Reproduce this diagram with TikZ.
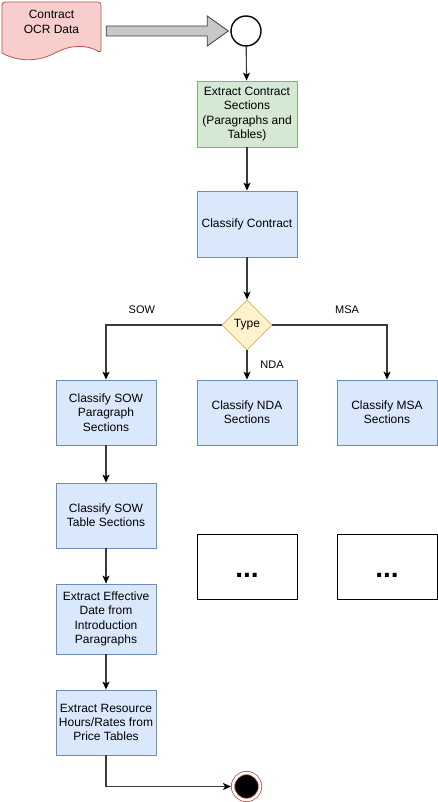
\documentclass[tikz,border=0pt]{standalone}
\usepackage{fontspec}
\setmainfont{Liberation Sans}
\usepackage{tikz}
\usetikzlibrary{shapes,arrows.meta}
\usetikzlibrary{calc}
\usetikzlibrary{positioning}

\definecolor{blue_fill}{HTML}{DAE8FC}
\definecolor{blue_line}{HTML}{6C8EBF}
\definecolor{green_fill}{HTML}{D5E8D4}
\definecolor{green_line}{HTML}{82B366}
\definecolor{yellow_fill}{HTML}{FFF2CC}
\definecolor{yellow_line}{HTML}{D6B656}
\definecolor{red_fill}{HTML}{F8CECC}
\definecolor{red_line}{HTML}{B85450}
\definecolor{edge_gray}{HTML}{3A3A3A}
\definecolor{arrow_gray}{HTML}{C8C8C8}

\begin{document}
\begin{tikzpicture}[x=1pt, y=-1pt,
	task_node/.style={rectangle, draw=blue_line, fill=blue_fill, line width=0.8pt, minimum width=100pt, minimum height=65pt, inner sep=0pt, align=center, font=\fontsize{12}{14.4}\selectfont},
	extract_node/.style={task_node, draw=green_line, fill=green_fill},
	dots_node/.style={task_node, draw=black, fill=white, font=\fontsize{28}{28}\selectfont\bfseries},
	type_node/.style={diamond, aspect=1, draw=yellow_line, fill=yellow_fill, line width=0.8pt, minimum width=50pt, minimum height=50pt, inner sep=0pt, font=\fontsize{12}{14.4}\selectfont},
	start_node/.style={circle, draw=black, line width=1.4pt, minimum size=30pt, inner sep=0pt},
	stop_node/.style={circle, fill=black, draw=red_line, line width=0.8pt, double=white, double distance=2.5pt, minimum size=27pt, inner sep=0pt, outer sep=2pt},
	flow/.style={draw=edge_gray, line width=1.1pt, -{Stealth[length=8pt, width=7pt, inset=2pt, color=black]}},
	choice/.style={font=\fontsize{11}{13}\selectfont}]
	\useasboundingbox (0,0) rectangle (437,802);

	% input document
	\draw[draw=red_line, fill=red_fill, line width=0.8pt, rounded corners=3pt]
		(2,53) -- (2,2) -- (101,2) -- (101,53) [sharp corners]
		.. controls (86,44) and (70,45) .. (55,53)
		.. controls (40,61) and (20,63) .. (2,53) -- cycle;
	\node[align=center, minimum width=99pt, inner sep=0pt, font=\fontsize{12}{14.4}\selectfont] (ocr) at (51.5,22) {Contract\\OCR Data};

	\node[start_node] (start) at (246,31) {};
	\node[extract_node, minimum height=66pt] (sections) at (247,114) {Extract Contract\\Sections\\(Paragraphs and\\Tables)};
	\node[task_node, minimum height=66pt] (classify) at (247,224) {Classify Contract};
	\node[type_node] (type) at (247,325) {Type};

	\node[task_node] (sow_para) at (106,412.5) {Classify SOW\\Paragraph\\Sections};
	\node[task_node] (nda) at (247,412.5) {Classify NDA\\Sections};
	\node[task_node] (msa) at (387,412.5) {Classify MSA\\Sections};

	\node[task_node] (sow_table) at (106,515.5) {Classify SOW\\Table Sections};
	\node[dots_node] (nda_more) at (247,566.5) {\rule{0pt}{22pt}...};
	\node[dots_node] (msa_more) at (387,566.5) {\rule{0pt}{22pt}...};
	\node[task_node, minimum height=70pt] (eff_date) at (106,619) {Extract Effective\\Date from\\Introduction\\Paragraphs};
	\node[task_node] (resource) at (106,722.5) {Extract Resource\\Hours/Rates from\\Price Tables};

	\node[stop_node] (stop) at (246.5,786.5) {};

	% block arrow from the input
	\draw[draw=edge_gray, fill=arrow_gray, line width=0.8pt]
		($(ocr.east |- start)+(5,-5)$) -- ($(start.west)+(-23,-5)$) -- ($(start.west)+(-23,-15)$)
		-- ($(start.west)+(-2,0)$) -- ($(start.west)+(-23,15)$) -- ($(start.west)+(-23,5)$)
		-- ($(ocr.east |- start)+(5,5)$) -- cycle;

	\path[flow]
		(start) edge (sections)
		(sections) edge (classify)
		(classify) edge (type)
		(type) edge node[choice, xshift=25pt] {NDA} (nda)
		(sow_para) edge (sow_table)
		(sow_table) edge (eff_date)
		(eff_date) edge (resource);
	\draw[flow] (type.west) -| node[choice, pos=0.345, yshift=15pt] {SOW} (sow_para);
	\draw[flow] (type.east) -| node[choice, pos=0.326, yshift=15pt] {MSA} (msa);
	\draw[flow] (resource) |- (stop);
\end{tikzpicture}
\end{document}
